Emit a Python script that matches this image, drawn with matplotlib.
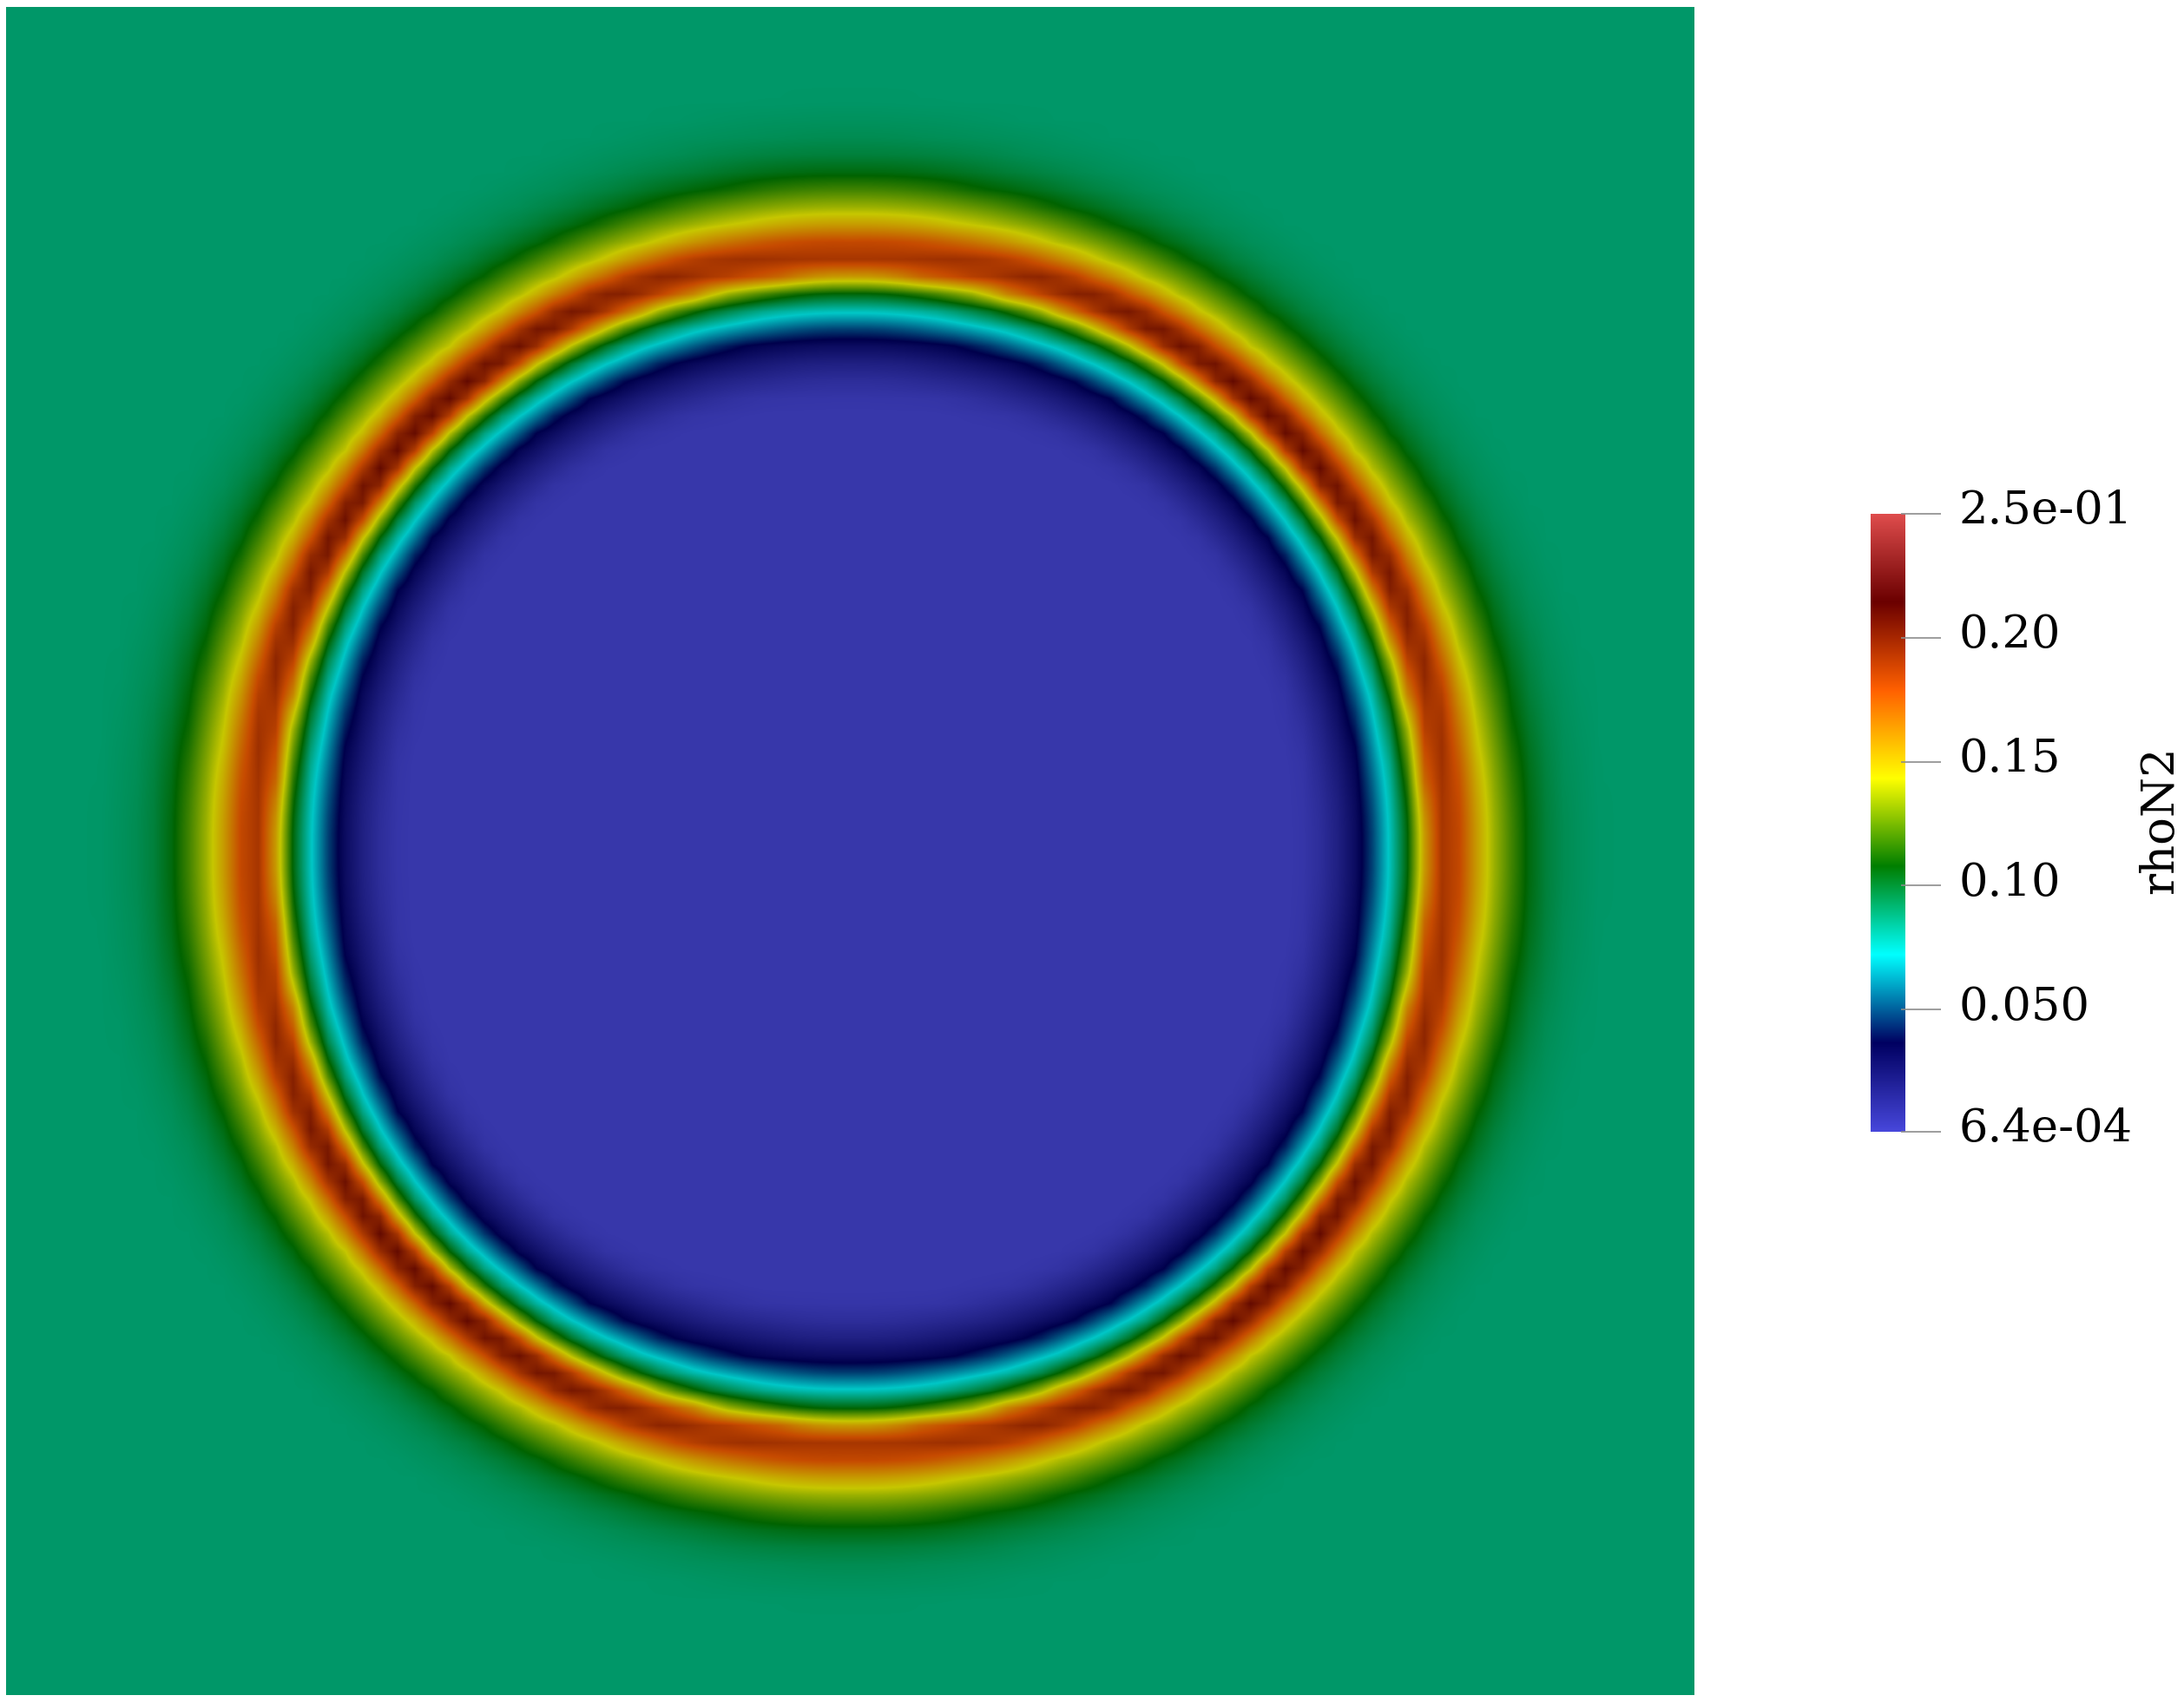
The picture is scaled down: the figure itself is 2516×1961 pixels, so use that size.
"""
rhoN2 field with a ParaView style colour bar
"""

import numpy as np
import matplotlib
matplotlib.use('Agg')
import matplotlib.pyplot as plt
from matplotlib.colors import LinearSegmentedColormap

W, H = 2516, 1961

# colour bar stops, evenly spaced over the range
bar_colors = ['#4747db', '#000061', '#00ffff', '#007f00', '#ffff00', '#ff6000', '#6b0000', '#e04d4d']
shade = 0.78  # the field is darker than the bar

vmin, vmax = 0.00064, 0.25
tick_values = [0.00064, 0.05, 0.10, 0.15, 0.20, 0.25]
tick_labels = ['6.4e-04', '0.050', '0.10', '0.15', '0.20', '2.5e-01']

# radial profile read along the x and y axes of the ring (pixels from the centre)
radius_axis = [0, 515, 538, 570, 599, 612, 626, 637, 649, 665, 674, 684, 699, 709, 740, 785, 810, 835, 875, 1500]
value_axis = [0.00064, 0.00064, 0.003, 0.017, 0.0357, 0.054, 0.0715, 0.085, 0.107, 0.143, 0.175, 0.188, 0.19, 0.18, 0.143, 0.107, 0.097, 0.092, 0.089, 0.089]

# same profile read along the diagonals
radius_diag = [0, 524, 547, 579, 609, 622, 636, 647, 659, 675, 684, 694, 705, 716, 726, 750, 795, 820, 845, 885, 1500]
value_diag = [0.00064, 0.00064, 0.003, 0.017, 0.0357, 0.054, 0.0715, 0.085, 0.107, 0.143, 0.172, 0.2, 0.212, 0.2, 0.179, 0.143, 0.107, 0.097, 0.092, 0.089, 0.089]

# how far the diagonal profile applies, by angle away from the nearest axis
fold_angle = [0, 10, 20, 30, 45]
fold_weight = [0.0, 0.12, 0.5, 0.85, 1.0]

# mesh of the simulation, its cells show as ripples on the ring
n_nodes = 97


def add_axes_px(fig, left, top, right, bottom):
    return fig.add_axes([left / W, 1 - bottom / H, (right - left) / W, (bottom - top) / H])


def ring_field(n):
    half = 972.5
    x = np.linspace(-half, half, n)
    xx, yy = np.meshgrid(x, x)
    r = np.hypot(xx, yy)
    angle = np.degrees(np.arctan2(np.abs(yy), np.abs(xx)))
    angle = np.minimum(angle, 90 - angle)
    w = np.interp(angle, fold_angle, fold_weight)
    return (1 - w) * np.interp(r, radius_axis, value_axis) + w * np.interp(r, radius_diag, value_diag)


cmap_bar = LinearSegmentedColormap.from_list('bar', bar_colors, N=1024)
field_colors = [np.array(matplotlib.colors.to_rgb(c)) * shade for c in bar_colors]
cmap_field = LinearSegmentedColormap.from_list('field', field_colors, N=1024)

fig = plt.figure(figsize=(W / 100, H / 100), dpi=100)

ax = add_axes_px(fig, 7, 8, 1952, 1953)
ax.imshow(ring_field(n_nodes), cmap=cmap_field, vmin=vmin, vmax=vmax, origin='lower',
          interpolation='bilinear', interpolation_stage='data')
ax.axis('off')

cax = add_axes_px(fig, 2155, 592, 2195, 1304)
gradient = np.linspace(vmin, vmax, 512).reshape(-1, 1)
cax.imshow(gradient, cmap=cmap_bar, vmin=vmin, vmax=vmax, origin='lower', aspect='auto',
           extent=[0, 1, vmin, vmax], interpolation='bilinear')
for spine in cax.spines.values():
    spine.set_visible(False)
cax.set_xticks([])
cax.set_yticks([])
cax.hlines(tick_values, 0.875, 2.025, colors='#8c8c8c', linewidth=1.2, clip_on=False,
           transform=cax.get_yaxis_transform())

# tick labels sit a little above their ticks
for value, label in zip(tick_values, tick_labels):
    cax.annotate(label, xy=(1, value), xycoords=cax.get_yaxis_transform(),
                 xytext=(61, 3), textcoords='offset pixels', annotation_clip=False,
                 family='DejaVu Serif', fontsize=38, color='black', ha='left', va='center')

fig.text(2489 / W, 1 - 945 / H, 'rhoN2', family='DejaVu Serif', fontsize=38, rotation=90,
         ha='center', va='center', color='black')

fig.savefig('out.png', dpi=100)
plt.close(fig)
